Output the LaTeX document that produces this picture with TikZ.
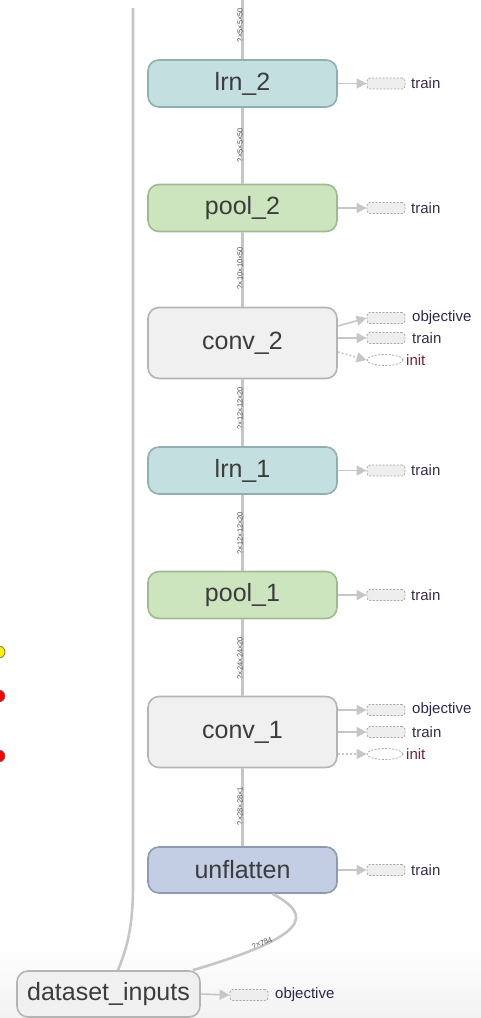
\documentclass[tikz,border=0pt]{standalone}
\usepackage{fontspec}
\setmainfont{Liberation Sans}
\usetikzlibrary{arrows.meta,shapes.geometric}
\definecolor{edgec}{HTML}{C6C6C6}
\definecolor{txt}{HTML}{3C3C3C}
\definecolor{lrnfill}{HTML}{C4DFE0}
\definecolor{lrndraw}{HTML}{8FAFB0}
\definecolor{poolfill}{HTML}{CCE5BE}
\definecolor{pooldraw}{HTML}{9DBB8E}
\definecolor{convfill}{HTML}{F0F0F0}
\definecolor{convdraw}{HTML}{B4B4B4}
\definecolor{unffill}{HTML}{C3CDE3}
\definecolor{unfdraw}{HTML}{8E9AB2}
\definecolor{auxdraw}{HTML}{A8A8A8}
\definecolor{auxfill}{HTML}{EEEEEE}
\definecolor{objc}{HTML}{28284E}
\definecolor{trainc}{HTML}{3A2C48}
\definecolor{initc}{HTML}{7A1F3C}
\tikzset{
  opnode/.style={rounded corners=11pt, minimum width=189pt, line width=1.6pt,
    font=\fontsize{25}{25}\selectfont, text=txt, inner sep=0pt},
  lrnbox/.style={opnode, fill=lrnfill, draw=lrndraw, minimum height=47pt},
  poolbox/.style={opnode, fill=poolfill, draw=pooldraw, minimum height=47pt},
  convbox/.style={opnode, fill=convfill, draw=convdraw, minimum height=71pt},
  unfbox/.style={opnode, fill=unffill, draw=unfdraw, minimum height=46pt},
  dsbox/.style={opnode, fill=convfill, draw=convdraw, minimum height=46pt, minimum width=183pt},
  edge/.style={draw=edgec, line width=3pt},
  edgelbl/.style={rotate=90, font=\fontsize{7.5}{7.5}\selectfont, text=black!68, inner sep=0pt},
  auxbox/.style={draw=auxdraw, dashed, dash pattern=on 2pt off 1.5pt, fill=auxfill,
    rounded corners=3pt, minimum width=38pt, minimum height=11pt, inner sep=0pt, line width=0.8pt},
  auxell/.style={ellipse, draw=auxdraw, dash pattern=on 2pt off 1.5pt, fill=white,
    minimum width=36pt, minimum height=11pt, inner sep=0pt, line width=0.8pt},
  auxlbl/.style={anchor=west, font=\fontsize{15}{15}\selectfont, inner sep=0pt},
  auxarrow/.style={draw=edgec, line width=1.6pt, -{Triangle[length=10pt,width=10pt,fill=edgec]}},
  auxdarrow/.style={auxarrow, dash pattern=on 2pt off 2pt},
  dot/.style={circle, draw=black!55, line width=0.8pt, minimum size=12pt, inner sep=0pt}
}
\begin{document}
\begin{tikzpicture}[x=1pt,y=-1pt]
\useasboundingbox (0,0) rectangle (481,1018);
\shade[top color=white, bottom color=black!5] (0,945) rectangle (481,1018);

% status dots at the left border
\node[dot, fill=yellow] (d1) at (-1,652) {};
\node[dot, fill=red] (d2) at (-1,696) {};
\node[dot, fill=red] (d3) at (-1,756) {};

% coordinates for free ends
\coordinate (top) at (242.5,0);
\coordinate (ltop) at (133,8);
\coordinate (lbend) at (133,885);

% main nodes
\node[lrnbox]  (lrn2)  at (242.5,83.5)  {lrn\_2};
\node[poolbox] (pool2) at (242.5,208)   {pool\_2};
\node[convbox] (conv2) at (242.5,343)   {conv\_2};
\node[lrnbox]  (lrn1)  at (242.5,470.5) {lrn\_1};
\node[poolbox] (pool1) at (242.5,595)   {pool\_1};
\node[convbox] (conv1) at (242.5,732)   {conv\_1};
\node[unfbox]  (unf)   at (242.5,870)   {unflatten};
\node[dsbox]   (ds)    at (108.5,994)   {dataset\_inputs};

% main edges
\draw[edge] (top) -- (lrn2.north);
\draw[edge] (lrn2) -- (pool2);
\draw[edge] (pool2) -- (conv2);
\draw[edge] (conv2) -- (lrn1);
\draw[edge] (lrn1) -- (pool1);
\draw[edge] (pool1) -- (conv1);
\draw[edge] (conv1) -- (unf);
\draw[edge, line width=2.6pt] ([xshift=-8pt]ds.north east) .. controls (312,935) and (312,915) .. ([xshift=30pt]unf.south);
\draw[edge, line width=2.6pt] ([xshift=9.5pt]ds.north) .. controls (126,950) and (133,930) .. (lbend) -- (ltop);

% edge labels
\node[edgelbl] (e0) at (240,25)  {?×5×5×50};
\node[edgelbl] (e1) at (240,145) {?×5×5×50};
\node[edgelbl] (e2) at (240,268) {?×10×10×50};
\node[edgelbl] (e3) at (240,408) {?×12×12×20};
\node[edgelbl] (e4) at (240,533) {?×12×12×20};
\node[edgelbl] (e5) at (240,658) {?×24×24×20};
\node[edgelbl] (e6) at (240,806) {?×28×28×1};
\node[edgelbl, rotate=-68] (e7) at (262,943) {?×784};

% auxiliary nodes: single train
\foreach \n/\y in {lrn2/83.5, pool2/208, lrn1/470.5, pool1/595, unf/870}{
  \node[auxbox] (\n-t) at (386,\y) {};
  \node[auxlbl, text=trainc] (\n-tl) at (411,\y) {train};
  \draw[auxarrow] (\n.east) -- (\n-t.west);
}

% conv_2 auxiliaries
\node[auxbox] (conv2-o) at (386,318) {};
\node[auxlbl, text=objc] (conv2-ol) at (412,318) {objective};
\node[auxbox] (conv2-t) at (386,338) {};
\node[auxlbl, text=trainc] (conv2-tl) at (412,338) {train};
\node[auxell] (conv2-i) at (385,360) {};
\node[auxlbl, text=initc] (conv2-il) at (406,360) {init};
\draw[auxarrow] ([yshift=17pt]conv2.east) -- (conv2-o.west);
\draw[auxarrow] ([yshift=5pt]conv2.east) -- (conv2-t.west);
\draw[auxdarrow] ([yshift=-9pt]conv2.east) -- (conv2-i.west);

% conv_1 auxiliaries
\node[auxbox] (conv1-o) at (386,710) {};
\node[auxlbl, text=objc] (conv1-ol) at (412,710) {objective};
\node[auxbox] (conv1-t) at (386,732) {};
\node[auxlbl, text=trainc] (conv1-tl) at (412,732) {train};
\node[auxell] (conv1-i) at (385,754) {};
\node[auxlbl, text=initc] (conv1-il) at (406,754) {init};
\draw[auxarrow] ([yshift=22pt]conv1.east) -- (conv1-o.west);
\draw[auxarrow] (conv1.east) -- (conv1-t.west);
\draw[auxdarrow] ([yshift=-22pt]conv1.east) -- (conv1-i.west);

% dataset_inputs auxiliary
\node[auxbox] (ds-o) at (249,995) {};
\node[auxlbl, text=objc] (ds-ol) at (275,995) {objective};
\draw[auxarrow] (ds.east) -- (ds-o.west);
\end{tikzpicture}
\end{document}
